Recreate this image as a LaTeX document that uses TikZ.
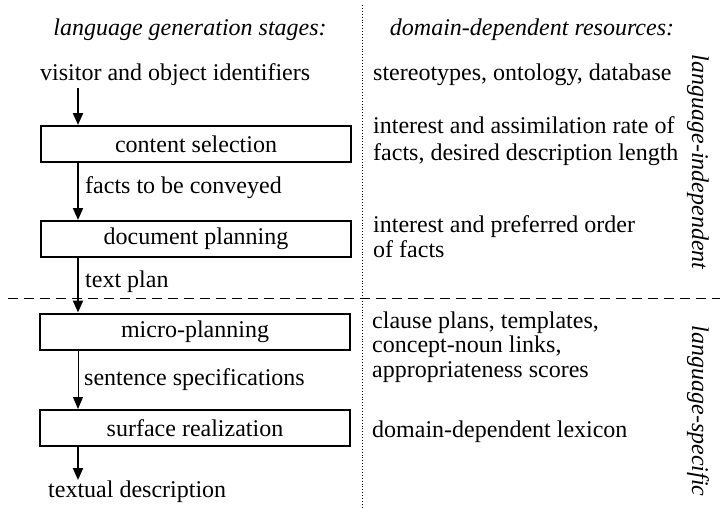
\documentclass[tikz,border=0pt]{standalone}
\usepackage{fontspec}
\setmainfont{Liberation Serif}
\usetikzlibrary{arrows.meta}
\begin{document}
\begin{tikzpicture}[x=1pt,y=-1pt,
  every node/.style={font=\fontsize{24}{27}\selectfont, inner sep=0pt},
  stagebox/.style={draw, line width=2pt, minimum width=310pt, minimum height=36pt},
  lbl/.style={anchor=west},
  res/.style={anchor=west, align=left},
  hdr/.style={font=\fontsize{24}{27}\selectfont\itshape},
  side/.style={font=\fontsize{24}{27}\selectfont\itshape, rotate=-90},
  flow/.style={-{Triangle[length=12pt,width=10pt]}, line width=2pt},
  thinflow/.style={-{Triangle[length=12pt,width=10pt]}, line width=1pt}]
\useasboundingbox (0,0) rectangle (720,507);
% headers
\node[hdr] (h1) at (190,30) {language generation stages:};
\node[hdr] (h2) at (532,30) {domain-dependent resources:};
% separators
\coordinate (vt) at (362,5);
\coordinate (vb) at (362,507);
\draw[dotted, line width=0.9pt] (vt) -- (vb);
\coordinate (hl) at (8,298);
\coordinate (hr) at (720,298);
\draw[dash pattern=on 10pt off 6pt, line width=1pt] (hl) -- (hr);
% left column
\node[lbl] (in) at (40,75) {visitor and object identifiers};
\node[stagebox] (cs) at (196,144) {content selection};
\node[stagebox] (dp) at (196,239) {document planning};
\node[stagebox] (mp) at (195,331.5) {micro-planning};
\node[stagebox] (sr) at (195,428) {surface realization};
\node[lbl] (out) at (48,492) {textual description};
\coordinate (a0) at (78,88);
\draw[flow] (a0) -- (cs.north -| a0);
\draw[flow] (cs.south -| a0) -- (dp.north -| a0);
\draw[flow] (dp.south -| a0) -- (mp.north -| a0);
\draw[thinflow] (mp.south -| a0) -- (sr.north -| a0);
\coordinate (a4) at (78,480);
\draw[flow] (sr.south -| a0) -- (a4);
\node[lbl] (l1) at (85,188) {facts to be conveyed};
\node[lbl] (l2) at (85,282) {text plan};
\node[lbl] (l3) at (84,380) {sentence specifications};
% right column
\node[res] (r1) at (373,75) {stereotypes, ontology, database};
\node[res, font=\fontsize{24}{27}\selectfont] (r2) at (373,141.5) {interest and assimilation rate of\\facts, desired description length};
\node[res, font=\fontsize{24}{25}\selectfont] (r3) at (373,236.5) {interest and preferred order\\of facts};
\node[res, font=\fontsize{24}{24.5}\selectfont] (r4) at (372,347) {clause plans, templates,\\concept-noun links,\\appropriateness scores};
\node[res] (r5) at (372,432) {domain-dependent lexicon};
\node[side] (s1) at (698,162) {language-independent};
\node[side] (s2) at (698,411) {language-specific};
\end{tikzpicture}
\end{document}
